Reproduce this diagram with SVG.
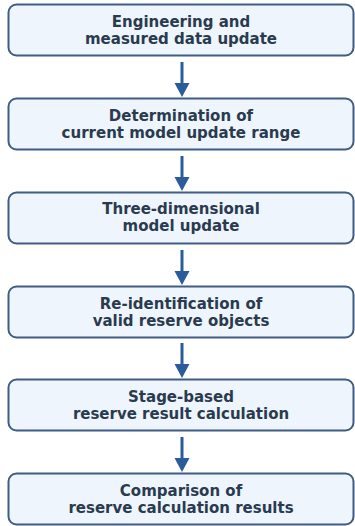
<svg xmlns="http://www.w3.org/2000/svg" width="355" height="526" viewBox="0 0 355 526">
<style>
.box{fill:#eef5fc;stroke:#3f5d82;stroke-width:2}
.t{font-family:"DejaVu Sans",sans-serif;font-weight:bold;font-size:15px;fill:#2a3b4f;text-anchor:middle}
.c{stroke:#2a5c9c;stroke-width:3;fill:none}
.h{fill:#2a5c9c}
</style>
<rect width="355" height="526" fill="#ffffff"/>
<g id="n1"><rect class="box" x="8.5" y="4.5" width="345" height="51" rx="8"/><text class="t" x="181" y="26.5">Engineering and</text><text class="t" x="181" y="43.5">measured data update</text></g>
<g id="n2"><rect class="box" x="8.5" y="98.5" width="345" height="51" rx="8"/><text class="t" x="181" y="120.5">Determination of</text><text class="t" x="181" y="137.5">current model update range</text></g>
<g id="n3"><rect class="box" x="8.5" y="192.5" width="345" height="51" rx="8"/><text class="t" x="181" y="214">Three-dimensional</text><text class="t" x="181" y="231">model update</text></g>
<g id="n4"><rect class="box" x="8.5" y="286.5" width="345" height="51" rx="8"/><text class="t" x="181" y="308.5">Re-identification of</text><text class="t" x="181" y="325.5">valid reserve objects</text></g>
<g id="n5"><rect class="box" x="8.5" y="379.5" width="345" height="51" rx="8"/><text class="t" x="181" y="401.5">Stage-based</text><text class="t" x="181" y="418.5">reserve result calculation</text></g>
<g id="n6"><rect class="box" x="8.5" y="473.5" width="345" height="51" rx="8"/><text class="t" x="181" y="496">Comparison of</text><text class="t" x="181" y="513">reserve calculation results</text></g>
<g id="connectors">
<line class="c" x1="182" y1="62" x2="182" y2="85"/><polygon class="h" points="174.5,83 189.5,83 182,97"/>
<line class="c" x1="182" y1="156" x2="182" y2="179"/><polygon class="h" points="174.5,177 189.5,177 182,191"/>
<line class="c" x1="182" y1="250" x2="182" y2="273"/><polygon class="h" points="174.5,271 189.5,271 182,285"/>
<line class="c" x1="182" y1="343" x2="182" y2="366"/><polygon class="h" points="174.5,364 189.5,364 182,378"/>
<line class="c" x1="182" y1="437" x2="182" y2="460"/><polygon class="h" points="174.5,458 189.5,458 182,472"/>
</g>
</svg>
